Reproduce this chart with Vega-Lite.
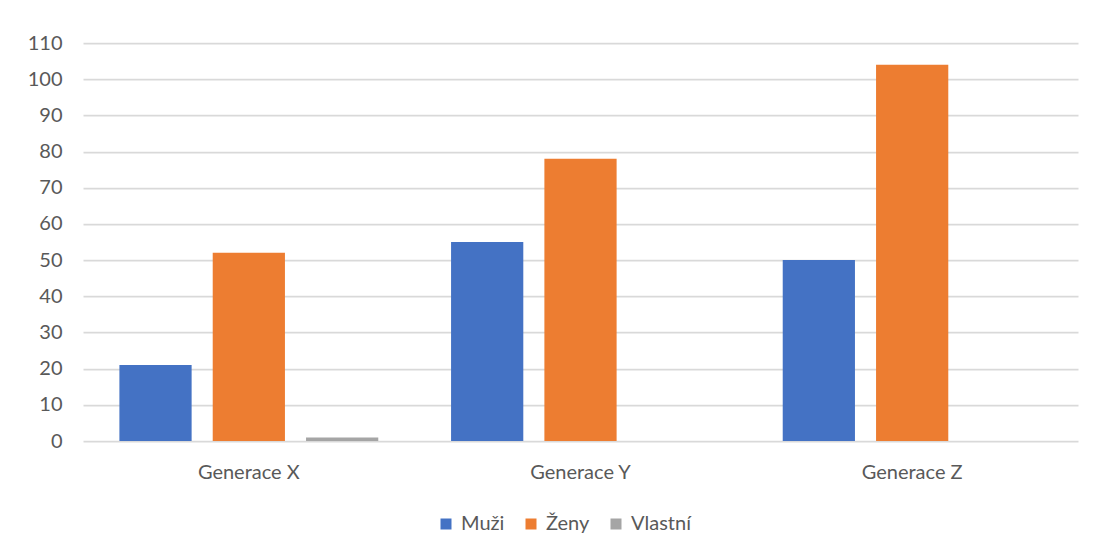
{
  "$schema": "https://vega.github.io/schema/vega-lite/v6.json",
  "autosize": {"type": "none"},
  "width": 995,
  "height": 398,
  "padding": {"left": 83, "top": 43, "right": 16, "bottom": 112},
  "background": "#ffffff",
  "data": {
    "values": [
      {"generace": "Generace X", "skupina": "Muži", "pocet": 21},
      {"generace": "Generace X", "skupina": "Ženy", "pocet": 52},
      {"generace": "Generace X", "skupina": "Vlastní", "pocet": 1},
      {"generace": "Generace Y", "skupina": "Muži", "pocet": 55},
      {"generace": "Generace Y", "skupina": "Ženy", "pocet": 78},
      {"generace": "Generace Y", "skupina": "Vlastní", "pocet": 0},
      {"generace": "Generace Z", "skupina": "Muži", "pocet": 50},
      {"generace": "Generace Z", "skupina": "Ženy", "pocet": 104},
      {"generace": "Generace Z", "skupina": "Vlastní", "pocet": 0}
    ]
  },
  "mark": {"type": "bar"},
  "encoding": {
    "x": {
      "field": "generace",
      "type": "nominal",
      "sort": ["Generace X", "Generace Y", "Generace Z"],
      "scale": {"paddingInner": 0, "paddingOuter": 0},
      "axis": {
        "title": null,
        "labelAngle": 0,
        "domain": false,
        "ticks": false,
        "tickSize": 0,
        "labelPadding": 21,
        "labelFont": "Lato",
        "labelFontSize": 20,
        "labelColor": "#595959",
        "grid": false
      }
    },
    "xOffset": {
      "field": "skupina",
      "type": "nominal",
      "sort": ["Muži", "Ženy", "Vlastní"],
      "scale": {"paddingInner": 0.226, "paddingOuter": 0.39}
    },
    "y": {
      "field": "pocet",
      "type": "quantitative",
      "scale": {"domain": [0, 110], "nice": false},
      "axis": {
        "title": null,
        "values": [0, 10, 20, 30, 40, 50, 60, 70, 80, 90, 100, 110],
        "domain": false,
        "ticks": false,
        "tickSize": 0,
        "labelPadding": 21,
        "labelFont": "Lato",
        "labelFontSize": 20,
        "labelColor": "#595959",
        "grid": true,
        "gridColor": "#D9D9D9",
        "gridWidth": 1.75
      }
    },
    "color": {
      "field": "skupina",
      "type": "nominal",
      "sort": ["Muži", "Ženy", "Vlastní"],
      "scale": {
        "domain": ["Muži", "Ženy", "Vlastní"],
        "range": ["#4472C4", "#ED7D31", "#A5A5A5"]
      },
      "legend": {
        "title": null,
        "orient": "none",
        "direction": "horizontal",
        "legendX": 353,
        "legendY": 471,
        "padding": 0,
        "symbolType": "square",
        "symbolSize": 121,
        "symbolStrokeWidth": 0,
        "symbolOpacity": 1,
        "labelFont": "Lato",
        "labelFontSize": 20,
        "labelColor": "#595959",
        "labelOffset": 5,
        "columnPadding": 16
      }
    }
  },
  "config": {
    "view": {"stroke": null}
  }
}
